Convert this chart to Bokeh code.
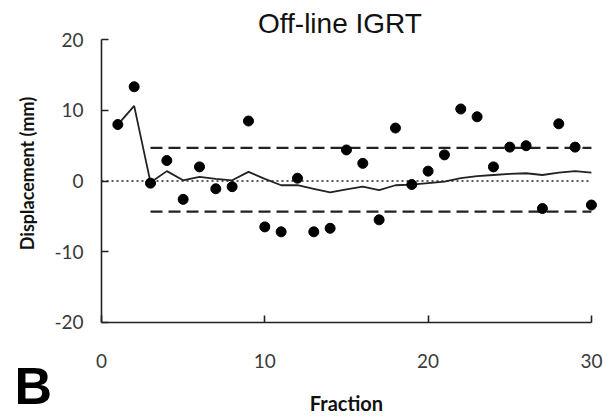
from bokeh.plotting import figure
from bokeh.models import Range1d, Label, FixedTicker, CustomJSTickFormatter
from bokeh.embed import file_html
from bokeh.resources import INLINE

fraction = list(range(1, 31))
displacement = [8.0, 13.35, -0.3, 2.9, -2.6, 2.0, -1.1, -0.8, 8.5, -6.5,
                -7.2, 0.4, -7.2, -6.7, 4.4, 2.5, -5.5, 7.5, -0.5, 1.4,
                3.7, 10.2, 9.1, 2.0, 4.8, 5.0, -3.9, 8.1, 4.8, -3.4]
mean_line = [8.0, 10.65, -0.2, 1.4, 0.1, 0.6, 0.3, 0.1, 1.3, 0.3,
             -0.6, -0.6, -1.1, -1.6, -1.2, -0.8, -1.3, -0.6, -0.5, -0.3,
             -0.1, 0.4, 0.7, 0.85, 1.0, 1.1, 0.85, 1.2, 1.4, 1.2]
band_x = [3, 30]
upper_band = [4.7, 4.7]
lower_band = [-4.35, -4.35]
zero_x = [0, 30]
zero_y = [0, 0]
x_ticks = [0, 10, 20, 30]
y_ticks = [-20, -10, 0, 10, 20]

p = figure(width=603, height=417, output_backend="svg", toolbar_location=None,
           x_range=Range1d(-6.185, 30.74), y_range=Range1d(-33.50, 25.57),
           min_border=0)
p.title = None
p.outline_line_color = None
p.grid.visible = False
p.background_fill_color = "white"
p.border_fill_color = "white"

ink = "#222222"
fmt = CustomJSTickFormatter(code="return tick.toString()")
for ax in (p.xaxis[0], p.yaxis[0]):
    ax.axis_line_color = ink
    ax.axis_line_width = 1.6
    ax.major_tick_line_color = ink
    ax.major_tick_line_width = 1.6
    ax.major_tick_in = 7
    ax.major_tick_out = 0
    ax.minor_tick_line_color = None
    ax.major_label_text_font = "Lato"
    ax.major_label_text_font_size = "19px"
    ax.major_label_text_color = "#3a3a3a"
    ax.formatter = fmt

p.xaxis.ticker = FixedTicker(ticks=x_ticks)
p.yaxis.ticker = FixedTicker(ticks=y_ticks)
p.xaxis.bounds = (0, 30)
p.yaxis.bounds = (-20, 20)
p.xaxis.fixed_location = -20
p.yaxis.fixed_location = 0
p.xaxis.major_label_standoff = 32
p.yaxis.major_label_standoff = 18
p.xaxis.axis_label = "Fraction"
p.xaxis.axis_label_text_font = "Lato"
p.xaxis.axis_label_text_font_style = "bold"
p.xaxis.axis_label_text_font_size = "20px"
p.xaxis.axis_label_text_color = "#111111"
p.xaxis.axis_label_standoff = 19

p.line(zero_x, zero_y, line_color=ink, line_width=1.5, line_dash="2 3")
p.line(band_x, upper_band, line_color=ink, line_width=2.2, line_dash="12 6")
p.line(band_x, lower_band, line_color=ink, line_width=2.2, line_dash="12 6")
p.line(fraction, mean_line, line_color=ink, line_width=1.8)
p.scatter(fraction, displacement, size=10, color="black")

p.add_layout(Label(x=14.6, y=22.30, text="Off-line IGRT", text_align="center",
                   text_baseline="alphabetic", text_font="Liberation Sans",
                   text_font_size="28px", text_color="#111111"))
p.add_layout(Label(x=-4.55, y=1.07, text="Displacement (mm)", angle=1.5708,
                   text_align="center", text_baseline="middle", text_font="Lato",
                   text_font_style="bold", text_font_size="18px", text_color="#111111"))
p.add_layout(Label(x=-5.33, y=-29.04, text="B", text_align="left",
                   text_baseline="alphabetic", text_font="Liberation Sans",
                   text_font_style="bold", text_font_size="52px", text_color="black"))

open("out.html", "w").write(file_html(p, INLINE))
